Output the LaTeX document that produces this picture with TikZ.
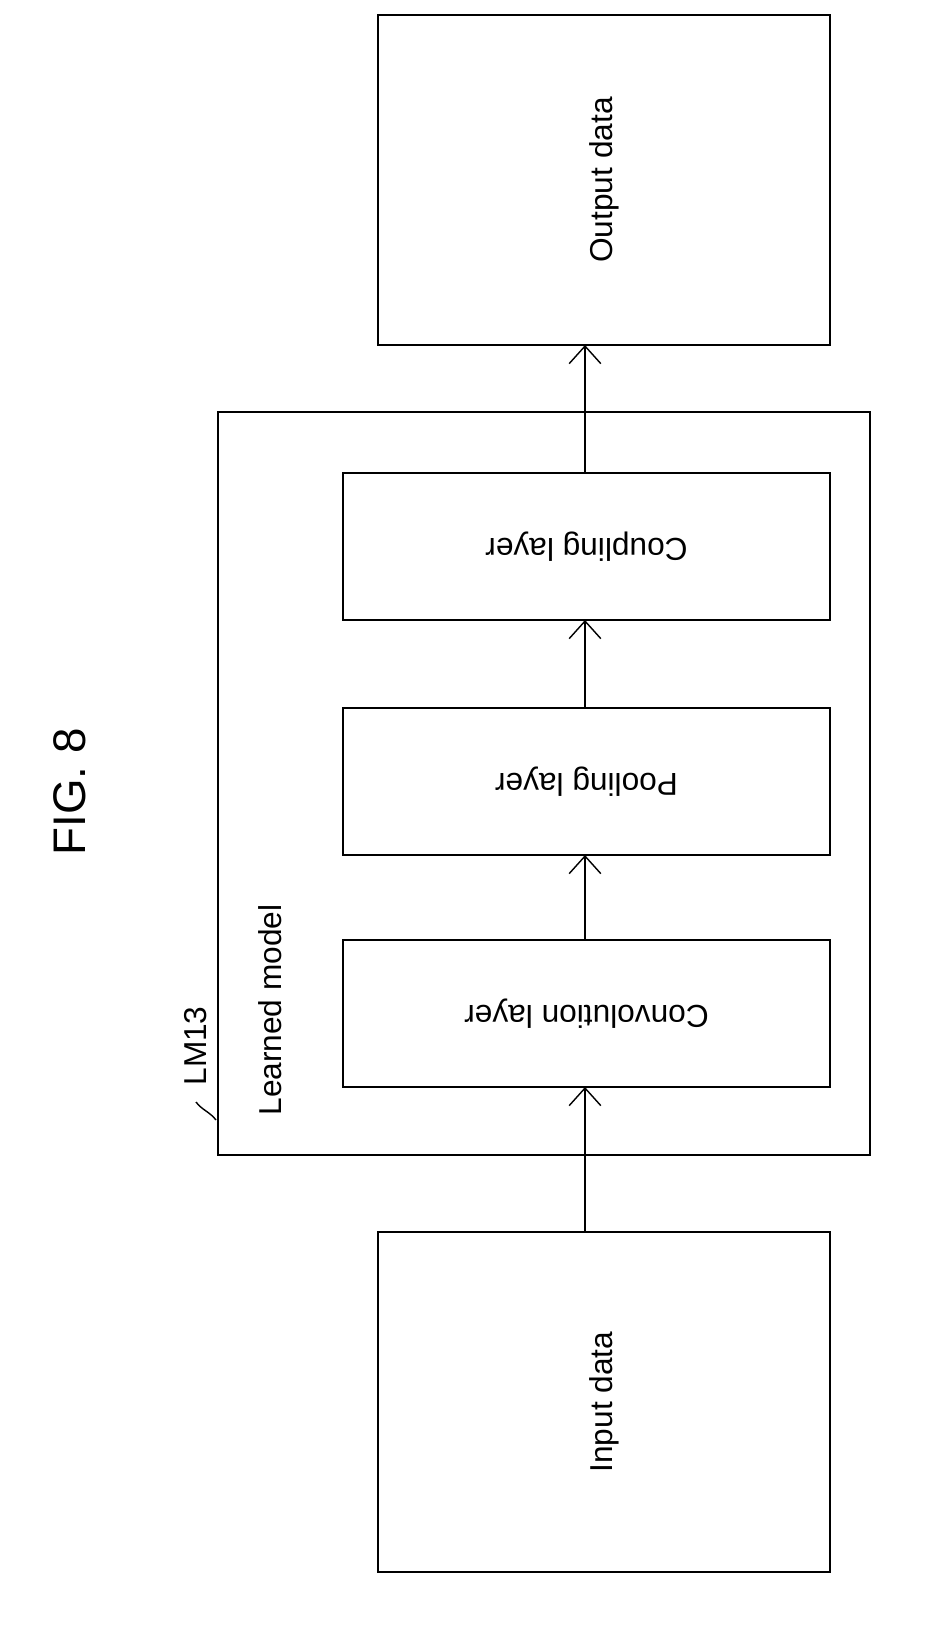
\documentclass[tikz,border=0pt]{standalone}
\usepackage{fontspec}
\setmainfont{Liberation Sans}
\usetikzlibrary{arrows.meta}
\tikzset{
  blk/.style={draw, semithick, inner sep=0pt, font=\fontsize{9}{11}\selectfont},
  flow/.style={-{Straight Barb[length=5pt,width=9pt]}}
}
\begin{document}
\begin{tikzpicture}[x=0.01cm, y=-0.01cm]
\useasboundingbox (0,0) rectangle (939,1647);
% outer model frame
\draw[semithick] (218,412) rectangle (870,1155);
\node[rotate=90, anchor=west, font=\fontsize{9}{11}\selectfont] (lm) at (270,1128) {Learned model};
\node[rotate=90, anchor=west, font=\fontsize{9}{11}\selectfont] (tag) at (196,1098) {LM13};
\draw (tag.west) ++(0,4) .. controls (202,1110) and (210,1112) .. (216,1120);
\node[rotate=90, font=\fontsize{13}{15}\selectfont] (fig) at (70,792) {FIG. 8};
% blocks
\node[blk, rotate=90, minimum width=3.3cm, minimum height=4.52cm] (out) at (604,180) {Output data};
\node[blk, rotate=180, minimum width=4.87cm, minimum height=1.47cm] (cpl) at (586.5,546.5) {Coupling layer};
\node[blk, rotate=180, minimum width=4.87cm, minimum height=1.47cm] (pool) at (586.5,781.5) {Pooling layer};
\node[blk, rotate=180, minimum width=4.87cm, minimum height=1.47cm] (conv) at (586.5,1013.5) {Convolution layer};
\node[blk, rotate=90, minimum width=3.4cm, minimum height=4.52cm] (in) at (604,1402) {Input data};
% connectors
\draw[flow] (585,1232) -- (585,1087);
\draw[flow] (585,940) -- (585,855);
\draw[flow] (585,708) -- (585,620);
\draw[flow] (585,473) -- (585,345);
\end{tikzpicture}
\end{document}
